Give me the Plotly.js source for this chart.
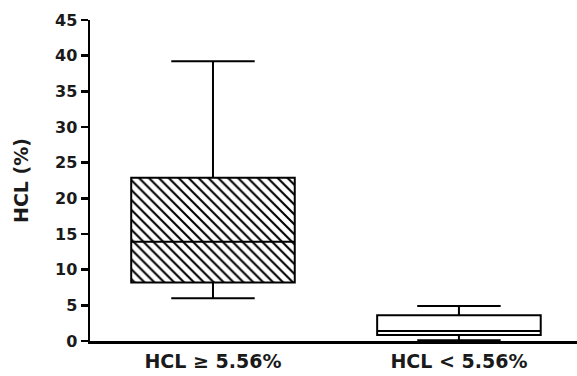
<!DOCTYPE html>
<html>
<head>
<meta charset="utf-8">
<script src="https://cdn.plot.ly/plotly-3.0.1.min.js"></script>
<style>html,body{margin:0;padding:0;background:#fff;}#chart{width:577px;height:376px;}</style>
</head>
<body>
<div id="chart"></div>
<script>
var categories = ["HCL ≥ 5.56%", "HCL < 5.56%"];
var lowerWhisker = [6.0, 0.1];
var q1 = [8.2, 0.85];
var median = [13.9, 1.4];
var q3 = [22.9, 3.6];
var upperWhisker = [39.2, 4.9];
var hatchShapes = ["\\", ""];
var yTickVals = [0, 5, 10, 15, 20, 25, 30, 35, 40, 45];

var boxW = 0.665;
var font = "DejaVu Sans, Liberation Sans, Arial, sans-serif";

var hatch = {
  type: "bar",
  x: categories,
  base: q1,
  y: q3.map(function (v, i) { return v - q1[i]; }),
  width: [boxW, boxW],
  marker: {
    color: "#ffffff",
    line: {width: 0},
    pattern: {shape: hatchShapes, fgcolor: "#000000", bgcolor: "#ffffff", size: 7, solidity: 0.3}
  },
  hoverinfo: "skip",
  showlegend: false
};

var box = {
  type: "box",
  x: categories,
  q1: q1,
  median: median,
  q3: q3,
  lowerfence: lowerWhisker,
  upperfence: upperWhisker,
  width: boxW,
  whiskerwidth: 0.51,
  fillcolor: "rgba(0,0,0,0)",
  line: {color: "#000000", width: 2},
  boxpoints: false,
  showlegend: false
};

var layout = {
  width: 577,
  height: 376,
  margin: {l: 90, r: 0, t: 20, b: 35, pad: 0},
  paper_bgcolor: "#ffffff",
  plot_bgcolor: "#ffffff",
  showlegend: false,
  barmode: "overlay",
  font: {family: font, color: "#000000"},
  xaxis: {
    type: "category",
    range: [-0.5, 1.48],
    showline: true,
    linewidth: 2.5,
    linecolor: "#000000",
    ticks: "",
    showgrid: false,
    zeroline: false,
    tickfont: {family: font, size: 19, weight: "bold", color: "#1a1a1a"},
    ticklabelstandoff: 2
  },
  yaxis: {
    range: [0, 45],
    tickmode: "array",
    tickvals: yTickVals,
    ticktext: yTickVals.map(String),
    showline: true,
    linewidth: 2.5,
    linecolor: "#000000",
    ticks: "outside",
    ticklen: 7,
    tickwidth: 2.5,
    tickcolor: "#000000",
    showgrid: false,
    zeroline: false,
    tickfont: {family: font, size: 16, weight: "bold", color: "#1a1a1a"},
    title: {text: "HCL (%)", font: {family: font, size: 19, weight: "bold", color: "#1a1a1a"}, standoff: 22}
  }
};

Plotly.newPlot("chart", [hatch, box], layout, {displayModeBar: false, staticPlot: true});
</script>
</body>
</html>
